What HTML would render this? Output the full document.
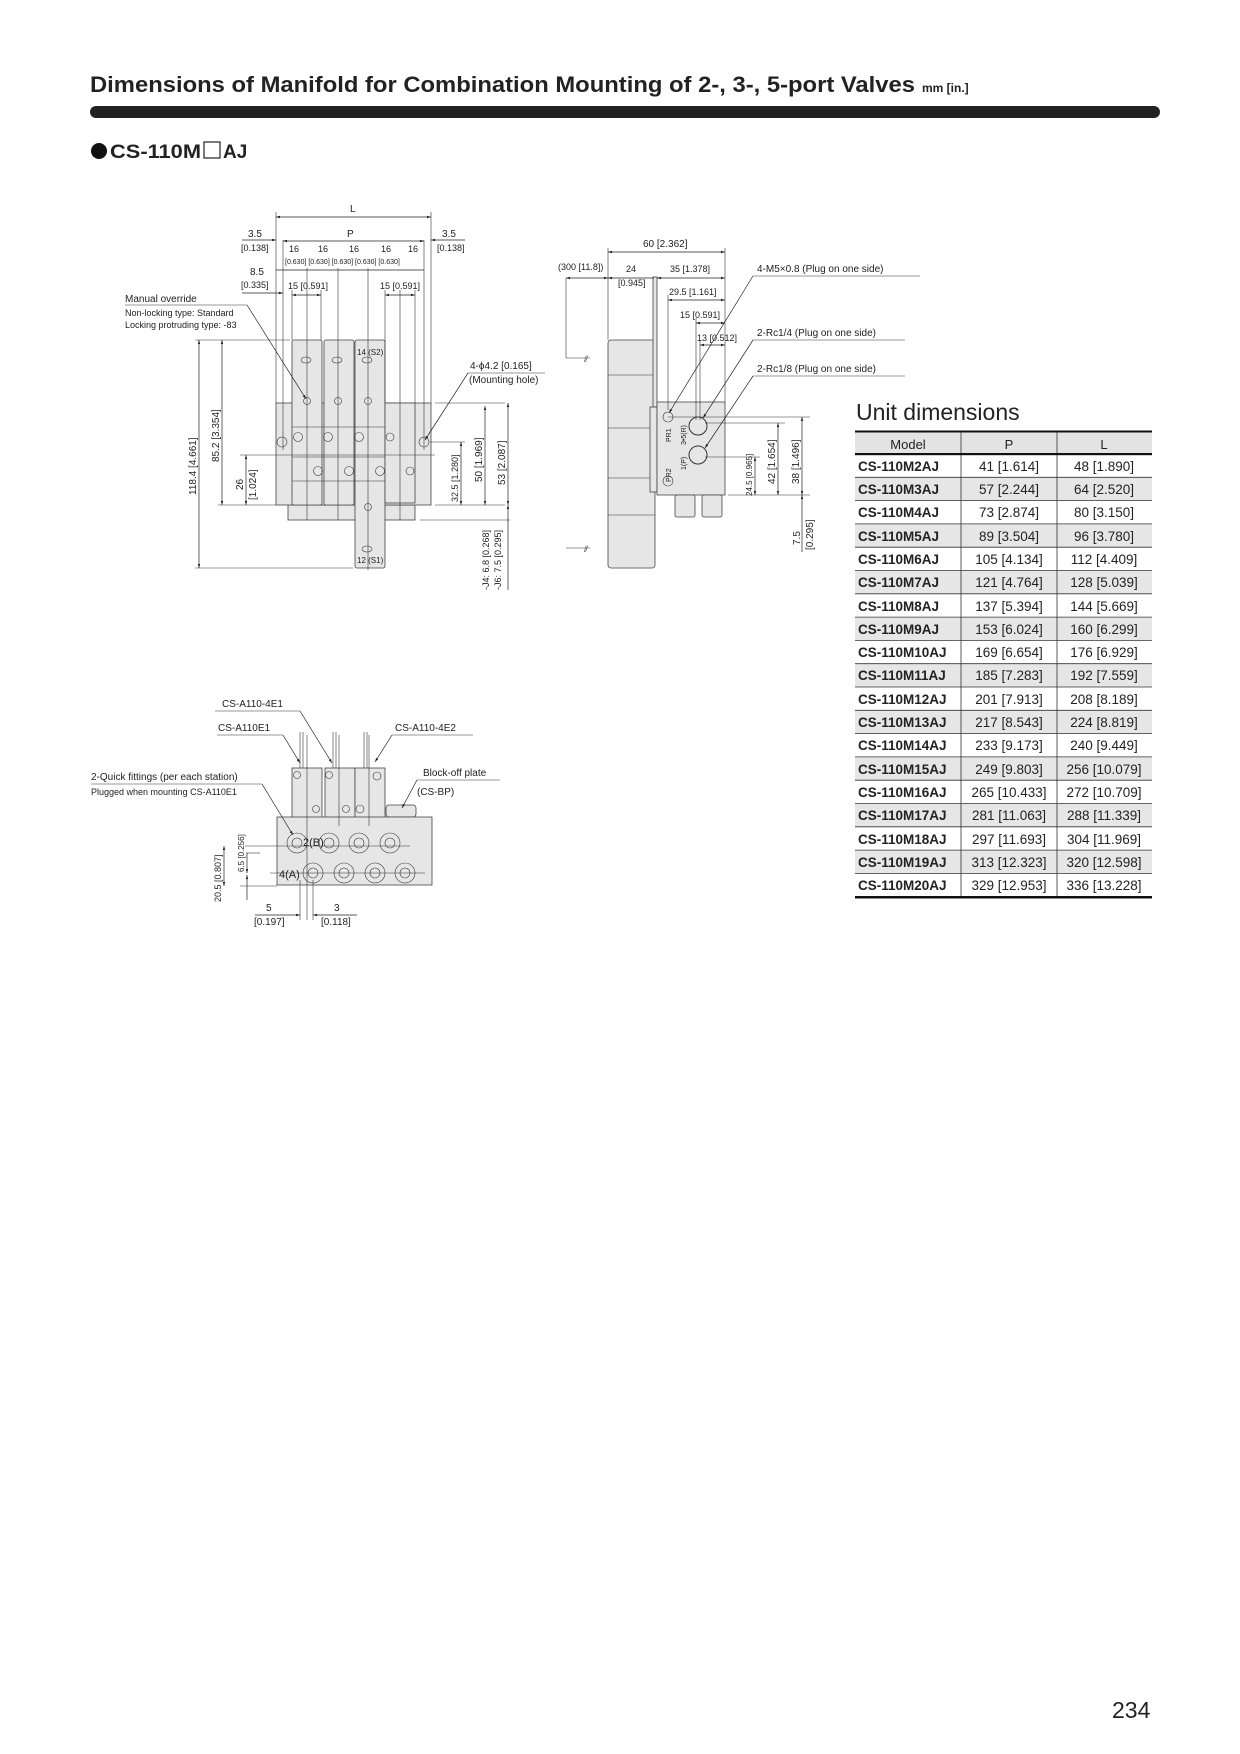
<!DOCTYPE html>
<html><head><meta charset="utf-8"><style>
html,body{margin:0;padding:0;background:#fff;}
svg{display:block;}
text{font-family:"Liberation Sans",sans-serif;fill:#222;}
.s{font-size:9px;}
.m{font-size:10px;}
.b{fill:#e6e6e6;stroke:#444;stroke-width:0.8;}
.l{stroke:#222;stroke-width:0.7;fill:none;}
.t{stroke:#333;stroke-width:0.6;fill:none;}
</style></head><body>
<svg width="1240" height="1754" viewBox="0 0 1240 1754" xmlns="http://www.w3.org/2000/svg">
<defs>
<marker id="a" viewBox="0 0 10 10" refX="10" refY="5" markerWidth="6" markerHeight="6" orient="auto-start-reverse"><path d="M0,2 L10,5 L0,8 z" fill="#222"/></marker>
</defs>
<!-- header -->
<text x="90" y="92" style="font-size:22px;font-weight:bold;" textLength="825" lengthAdjust="spacingAndGlyphs">Dimensions of Manifold for Combination Mounting of 2-, 3-, 5-port Valves</text>
<text x="922" y="92" style="font-size:12px;font-weight:bold;">mm [in.]</text>
<rect x="90" y="106" width="1070" height="12" rx="6" fill="#222"/>
<circle cx="99" cy="151" r="8" fill="#111"/>
<text x="110" y="158" style="font-size:19px;font-weight:bold;" textLength="91" lengthAdjust="spacingAndGlyphs">CS-110M</text>
<rect x="204" y="142" width="16" height="16" fill="none" stroke="#222" stroke-width="1.2"/>
<text x="223" y="158" style="font-size:19px;font-weight:bold;">AJ</text>

<!-- ===== Front view ===== -->
<g>
<rect class="b" x="288" y="505" width="127" height="15"/>
<rect class="b" x="276" y="403" width="155" height="102"/>
<rect class="b" x="292" y="340" width="30" height="165" rx="2"/>
<rect class="b" x="324" y="340" width="30" height="165" rx="2"/>
<rect class="b" x="355" y="340" width="30" height="228" rx="2"/>
<rect class="b" x="385" y="403" width="30" height="100"/>
<line class="t" x1="292" y1="427" x2="385" y2="427"/>
<line class="t" x1="292" y1="457" x2="385" y2="457"/>
<line class="t" x1="292" y1="481" x2="385" y2="481"/>
<g class="t">
<ellipse cx="306" cy="360" rx="5" ry="3"/><ellipse cx="337" cy="360" rx="5" ry="3"/><ellipse cx="367" cy="360" rx="5" ry="3"/><ellipse cx="367" cy="549" rx="5" ry="3"/>
<circle cx="307" cy="401" r="3.5"/><circle cx="338" cy="401" r="3.5"/><circle cx="368" cy="401" r="3.5"/><circle cx="368" cy="507" r="3.5"/>
<circle cx="282" cy="442" r="5"/><circle cx="424" cy="442" r="5"/>
<circle cx="298" cy="437" r="4.5"/><circle cx="328" cy="437" r="4.5"/><circle cx="359" cy="437" r="4.5"/><circle cx="390" cy="437" r="4"/>
<circle cx="318" cy="471" r="4.5"/><circle cx="349" cy="471" r="4.5"/><circle cx="380" cy="471" r="4.5"/><circle cx="410" cy="471" r="4"/>
</g>
<text x="357" y="355" class="s" style="font-size:8px">14 (S2)</text>
<text x="357" y="563" class="s" style="font-size:8px">12 (S1)</text>
<g class="t">
<line x1="307" y1="268" x2="307" y2="520"/><line x1="338" y1="268" x2="338" y2="520"/><line x1="368" y1="268" x2="368" y2="570"/>
<line x1="400" y1="290" x2="400" y2="520"/><line x1="424" y1="240" x2="424" y2="450"/>
<line x1="283" y1="240" x2="283" y2="450"/><line x1="292" y1="290" x2="292" y2="340"/><line x1="321" y1="290" x2="321" y2="340"/>
<line x1="385" y1="290" x2="385" y2="403"/><line x1="415" y1="290" x2="415" y2="403"/>
<line x1="276" y1="212" x2="276" y2="403"/><line x1="431" y1="212" x2="431" y2="403"/>
</g>
<line class="l" x1="276" y1="217" x2="431" y2="217" marker-start="url(#a)" marker-end="url(#a)"/>
<text x="350" y="212" class="m">L</text>
<line class="l" x1="283" y1="241" x2="424" y2="241" marker-start="url(#a)" marker-end="url(#a)"/>
<text x="347" y="237" class="m">P</text>
<line class="l" x1="242" y1="240" x2="276" y2="240" marker-end="url(#a)"/>
<line class="l" x1="465" y1="240" x2="431" y2="240" marker-end="url(#a)"/>
<text x="248" y="237" class="m">3.5</text><text x="241" y="251" class="s">[0.138]</text>
<text x="442" y="237" class="m">3.5</text><text x="437" y="251" class="s">[0.138]</text>
<line class="l" x1="276" y1="270" x2="424" y2="270"/>
<text x="289" y="252" class="s">16</text><text x="318" y="252" class="s">16</text><text x="349" y="252" class="s">16</text><text x="381" y="252" class="s">16</text><text x="408" y="252" class="s">16</text>
<text x="285" y="264" class="s" style="font-size:7px">[0.630] [0.630]  [0.630]  [0.630] [0.630]</text>
<text x="250" y="275" class="m">8.5</text><text x="241" y="288" class="s">[0.335]</text>
<line class="l" x1="242" y1="293" x2="283" y2="293" marker-end="url(#a)"/>
<line class="l" x1="292" y1="295" x2="321" y2="295" marker-start="url(#a)" marker-end="url(#a)"/>
<line class="l" x1="385" y1="295" x2="415" y2="295" marker-start="url(#a)" marker-end="url(#a)"/>
<text x="288" y="289" class="s">15 [0.591]</text><text x="380" y="289" class="s">15 [0.591]</text>
<text x="125" y="302" class="m">Manual override</text>
<line class="t" x1="125" y1="305" x2="247" y2="305"/>
<text x="125" y="316" class="s">Non-locking type: Standard</text>
<text x="125" y="328" class="s">Locking protruding type: -83</text>
<line class="l" x1="247" y1="305" x2="306" y2="399" marker-end="url(#a)"/>
<text x="470" y="369" class="m">4-ϕ4.2 [0.165]</text>
<text x="469" y="383" class="m">(Mounting hole)</text>
<line class="t" x1="468" y1="373" x2="545" y2="373"/>
<line class="l" x1="468" y1="373" x2="425" y2="440" marker-end="url(#a)"/>
<line class="t" x1="195" y1="340" x2="290" y2="340"/>
<line class="t" x1="195" y1="568" x2="353" y2="568"/>
<line class="t" x1="218" y1="505" x2="276" y2="505"/>
<line class="t" x1="240" y1="455" x2="435" y2="455"/>
<line class="l" x1="199" y1="340" x2="199" y2="568" marker-start="url(#a)" marker-end="url(#a)"/>
<line class="l" x1="222" y1="340" x2="222" y2="505" marker-start="url(#a)" marker-end="url(#a)"/>
<line class="l" x1="246" y1="455" x2="246" y2="505" marker-start="url(#a)" marker-end="url(#a)"/>
<text transform="translate(196,495) rotate(-90)" class="m">118.4 [4.661]</text>
<text transform="translate(219,462) rotate(-90)" class="m">85.2 [3.354]</text>
<text transform="translate(243,490) rotate(-90)" class="m">26</text>
<text transform="translate(256,500) rotate(-90)" class="m">[1.024]</text>
<line class="t" x1="435" y1="403" x2="505" y2="403"/>
<line class="t" x1="435" y1="505" x2="505" y2="505"/>
<line class="t" x1="430" y1="442" x2="465" y2="442"/>
<line class="t" x1="420" y1="520" x2="510" y2="520"/>
<line class="l" x1="461" y1="442" x2="461" y2="505" marker-start="url(#a)" marker-end="url(#a)"/>
<line class="l" x1="485" y1="406" x2="485" y2="505" marker-start="url(#a)" marker-end="url(#a)"/>
<line class="l" x1="508" y1="403" x2="508" y2="505" marker-start="url(#a)" marker-end="url(#a)"/>
<line class="l" x1="508" y1="505" x2="508" y2="590" marker-start="url(#a)"/>
<text transform="translate(458,502) rotate(-90)" class="s">32.5 [1.280]</text>
<text transform="translate(482,482) rotate(-90)" class="m">50 [1.969]</text>
<text transform="translate(505,485) rotate(-90)" class="m">53 [2.087]</text>
<text transform="translate(489,590) rotate(-90)" class="s">-J4: 6.8 [0.268]</text>
<text transform="translate(501,590) rotate(-90)" class="s">-J6: 7.5 [0.295]</text>
</g>

<!-- ===== Side view ===== -->
<g>
<rect class="b" x="608" y="340" width="47" height="228" rx="3"/>
<line class="t" x1="608" y1="375" x2="655" y2="375"/><line class="t" x1="608" y1="428" x2="655" y2="428"/>
<line class="t" x1="608" y1="478" x2="655" y2="478"/><line class="t" x1="608" y1="515" x2="655" y2="515"/>
<rect class="b" x="653" y="277" width="4" height="130"/>
<rect class="b" x="650" y="407" width="7" height="85"/>
<rect class="b" x="657" y="402" width="68" height="93"/>
<rect class="b" x="675" y="495" width="20" height="22" rx="2"/>
<rect class="b" x="702" y="495" width="20" height="22" rx="2"/>
<g class="t"><circle cx="668" cy="417" r="5"/><circle cx="668" cy="481" r="5"/><circle cx="698" cy="426" r="9" stroke-width="1"/><circle cx="698" cy="455" r="9" stroke-width="1"/></g>
<text transform="translate(671,442) rotate(-90)" class="s" style="font-size:7px">PR1</text>
<text transform="translate(671,482) rotate(-90)" class="s" style="font-size:7px">PR2</text>
<text transform="translate(686,445) rotate(-90)" class="s" style="font-size:7px">3•5(R)</text>
<text transform="translate(686,470) rotate(-90)" class="s" style="font-size:7px">1(P)</text>
<path class="t" d="M566,358 h24 M566,548 h24"/>
<text x="584" y="362" class="s">⫽</text><text x="584" y="552" class="s">⫽</text>
<line class="t" x1="566" y1="278" x2="566" y2="358"/>
<line class="t" x1="608" y1="248" x2="608" y2="340"/>
<line class="t" x1="725" y1="248" x2="725" y2="402"/>
<line class="t" x1="668" y1="295" x2="668" y2="410"/>
<line class="t" x1="696" y1="318" x2="696" y2="420"/>
<line class="t" x1="700" y1="340" x2="700" y2="420"/>
<line class="l" x1="608" y1="252" x2="725" y2="252" marker-start="url(#a)" marker-end="url(#a)"/>
<text x="643" y="247" class="m">60 [2.362]</text>
<line class="l" x1="566" y1="278" x2="608" y2="278" marker-start="url(#a)" marker-end="url(#a)"/>
<line class="l" x1="608" y1="278" x2="654" y2="278" marker-start="url(#a)"/>
<line class="l" x1="657" y1="278" x2="725" y2="278" marker-start="url(#a)" marker-end="url(#a)"/>
<text x="558" y="270" class="s">(300 [11.8])</text>
<text x="626" y="272" class="s">24</text><text x="618" y="286" class="s">[0.945]</text>
<text x="670" y="272" class="s">35 [1.378]</text>
<line class="l" x1="668" y1="300" x2="725" y2="300" marker-start="url(#a)" marker-end="url(#a)"/>
<text x="669" y="295" class="s">29.5 [1.161]</text>
<line class="l" x1="696" y1="323" x2="725" y2="323" marker-start="url(#a)" marker-end="url(#a)"/>
<text x="680" y="318" class="s">15 [0.591]</text>
<line class="l" x1="700" y1="345" x2="725" y2="345" marker-start="url(#a)" marker-end="url(#a)"/>
<text x="697" y="341" class="s">13 [0.512]</text>
<text x="757" y="272" class="m">4-M5×0.8 (Plug on one side)</text>
<line class="t" x1="753" y1="276" x2="920" y2="276"/>
<line class="l" x1="753" y1="276" x2="669" y2="413" marker-end="url(#a)"/>
<text x="757" y="336" class="m">2-Rc1/4 (Plug on one side)</text>
<line class="t" x1="753" y1="340" x2="905" y2="340"/>
<line class="l" x1="753" y1="340" x2="703" y2="418" marker-end="url(#a)"/>
<text x="757" y="372" class="m">2-Rc1/8 (Plug on one side)</text>
<line class="t" x1="753" y1="376" x2="905" y2="376"/>
<line class="l" x1="753" y1="376" x2="705" y2="448" marker-end="url(#a)"/>
<line class="t" x1="668" y1="417" x2="810" y2="417"/>
<line class="t" x1="705" y1="423" x2="785" y2="423"/>
<line class="t" x1="705" y1="457" x2="760" y2="457"/>
<line class="t" x1="728" y1="495" x2="810" y2="495"/>
<line class="l" x1="755" y1="457" x2="755" y2="495" marker-start="url(#a)" marker-end="url(#a)"/>
<line class="l" x1="778" y1="423" x2="778" y2="495" marker-start="url(#a)" marker-end="url(#a)"/>
<line class="l" x1="802" y1="417" x2="802" y2="495" marker-start="url(#a)" marker-end="url(#a)"/>
<line class="l" x1="802" y1="495" x2="802" y2="552" marker-start="url(#a)"/>
<text transform="translate(752,496) rotate(-90)" class="s" style="font-size:8px">24.5 [0.965]</text>
<text transform="translate(775,484) rotate(-90)" class="m">42 [1.654]</text>
<text transform="translate(799,484) rotate(-90)" class="m">38 [1.496]</text>
<text transform="translate(800,545) rotate(-90)" class="m">7.5</text>
<text transform="translate(813,550) rotate(-90)" class="m">[0.295]</text>
</g>

<!-- ===== Bottom view ===== -->
<g>
<rect class="b" x="292" y="768" width="30" height="50"/>
<rect class="b" x="325" y="768" width="30" height="50"/>
<rect class="b" x="355" y="768" width="30" height="50"/>
<rect class="b" x="386" y="805" width="30" height="12" rx="3"/>
<rect class="b" x="277" y="817" width="155" height="68"/>
<g class="t">
<circle cx="297" cy="775" r="3.5"/><circle cx="316" cy="809" r="3.5"/><circle cx="329" cy="775" r="3.5"/><circle cx="346" cy="809" r="3.5"/><circle cx="377" cy="776" r="4"/><circle cx="360" cy="809" r="4"/>
<circle cx="297" cy="843" r="10"/><circle cx="297" cy="843" r="5"/><circle cx="329" cy="843" r="10"/><circle cx="329" cy="843" r="5"/>
<circle cx="359" cy="843" r="10"/><circle cx="359" cy="843" r="5"/><circle cx="390" cy="843" r="10"/><circle cx="390" cy="843" r="5"/>
<circle cx="313" cy="873" r="10"/><circle cx="313" cy="873" r="5"/><circle cx="344" cy="873" r="10"/><circle cx="344" cy="873" r="5"/>
<circle cx="375" cy="873" r="10"/><circle cx="375" cy="873" r="5"/><circle cx="405" cy="873" r="10"/><circle cx="405" cy="873" r="5"/>
<line x1="245" y1="846" x2="410" y2="846"/><line x1="270" y1="873" x2="425" y2="873"/>
<line x1="307" y1="735" x2="307" y2="920"/><line x1="339" y1="735" x2="339" y2="826"/><line x1="369" y1="735" x2="369" y2="826"/>
<line x1="300" y1="880" x2="300" y2="920"/><line x1="313" y1="880" x2="313" y2="920"/>
<line x1="300" y1="732" x2="300" y2="768"/><line x1="303" y1="732" x2="303" y2="768"/><line x1="333" y1="732" x2="333" y2="768"/><line x1="336" y1="732" x2="336" y2="768"/><line x1="364" y1="732" x2="364" y2="768"/><line x1="367" y1="732" x2="367" y2="768"/>
<line x1="240" y1="886" x2="277" y2="886"/><line x1="246" y1="853" x2="260" y2="853"/>
</g>
<text x="303" y="846" class="m" style="font-size:11px">2(B)</text>
<text x="279" y="878" class="m" style="font-size:11px">4(A)</text>
<line class="l" x1="224" y1="846" x2="224" y2="886" marker-start="url(#a)" marker-end="url(#a)"/>
<line class="l" x1="247" y1="853" x2="247" y2="873" marker-end="url(#a)"/>
<line class="l" x1="247" y1="900" x2="247" y2="875" marker-end="url(#a)"/>
<text transform="translate(221,902) rotate(-90)" class="s">20.5 [0.807]</text>
<text transform="translate(244,872) rotate(-90)" class="s" style="font-size:8px">6.5 [0.256]</text>
<line class="l" x1="255" y1="915" x2="300" y2="915" marker-end="url(#a)"/>
<line class="l" x1="357" y1="915" x2="313" y2="915" marker-end="url(#a)"/>
<text x="266" y="911" class="m">5</text><text x="254" y="925" class="m">[0.197]</text>
<text x="334" y="911" class="m">3</text><text x="321" y="925" class="m">[0.118]</text>
<text x="222" y="707" class="m">CS-A110-4E1</text>
<line class="t" x1="215" y1="711" x2="300" y2="711"/>
<line class="l" x1="300" y1="711" x2="332" y2="763" marker-end="url(#a)"/>
<text x="218" y="731" class="m">CS-A110E1</text>
<line class="t" x1="217" y1="735" x2="283" y2="735"/>
<line class="l" x1="283" y1="735" x2="300" y2="763" marker-end="url(#a)"/>
<text x="395" y="731" class="m">CS-A110-4E2</text>
<line class="t" x1="392" y1="735" x2="473" y2="735"/>
<line class="l" x1="392" y1="735" x2="375" y2="762" marker-end="url(#a)"/>
<text x="423" y="776" class="m">Block-off plate</text>
<line class="t" x1="417" y1="780" x2="500" y2="780"/>
<text x="417" y="795" class="m">(CS-BP)</text>
<line class="l" x1="417" y1="780" x2="402" y2="808" marker-end="url(#a)"/>
<text x="91" y="780" class="m">2-Quick fittings (per each station)</text>
<line class="t" x1="91" y1="784" x2="262" y2="784"/>
<text x="91" y="795" class="s">Plugged when mounting CS-A110E1</text>
<line class="l" x1="262" y1="784" x2="293" y2="835" marker-end="url(#a)"/>
</g>

<!-- ===== Table ===== -->
<text x="856" y="420" style="font-size:23px;">Unit dimensions</text>
<rect x="855" y="432" width="297" height="22" fill="#e3e3e3"/>
<g style="font-size:13.5px;">
<text x="908" y="449" text-anchor="middle" style="font-size:13px">Model</text>
<text x="1009" y="449" text-anchor="middle" style="font-size:13px">P</text>
<text x="1104" y="449" text-anchor="middle" style="font-size:13px">L</text>
</g>
<g>
<rect x="855" y="477.3" width="297" height="23.3" fill="#e6e6e6"/>
<rect x="855" y="523.9" width="297" height="23.3" fill="#e6e6e6"/>
<rect x="855" y="570.5" width="297" height="23.3" fill="#e6e6e6"/>
<rect x="855" y="617.1" width="297" height="23.3" fill="#e6e6e6"/>
<rect x="855" y="663.7" width="297" height="23.3" fill="#e6e6e6"/>
<rect x="855" y="710.3" width="297" height="23.3" fill="#e6e6e6"/>
<rect x="855" y="756.9" width="297" height="23.3" fill="#e6e6e6"/>
<rect x="855" y="803.5" width="297" height="23.3" fill="#e6e6e6"/>
<rect x="855" y="850.1" width="297" height="23.3" fill="#e6e6e6"/>
</g>
<g stroke="#333" stroke-width="0.8">
<line x1="855" y1="477.3" x2="1152" y2="477.3"/><line x1="855" y1="500.6" x2="1152" y2="500.6"/><line x1="855" y1="523.9" x2="1152" y2="523.9"/><line x1="855" y1="547.2" x2="1152" y2="547.2"/><line x1="855" y1="570.5" x2="1152" y2="570.5"/><line x1="855" y1="593.8" x2="1152" y2="593.8"/><line x1="855" y1="617.1" x2="1152" y2="617.1"/><line x1="855" y1="640.4" x2="1152" y2="640.4"/><line x1="855" y1="663.7" x2="1152" y2="663.7"/><line x1="855" y1="687" x2="1152" y2="687"/><line x1="855" y1="710.3" x2="1152" y2="710.3"/><line x1="855" y1="733.6" x2="1152" y2="733.6"/><line x1="855" y1="756.9" x2="1152" y2="756.9"/><line x1="855" y1="780.2" x2="1152" y2="780.2"/><line x1="855" y1="803.5" x2="1152" y2="803.5"/><line x1="855" y1="826.8" x2="1152" y2="826.8"/><line x1="855" y1="850.1" x2="1152" y2="850.1"/><line x1="855" y1="873.4" x2="1152" y2="873.4"/>
<line x1="961" y1="432" x2="961" y2="897"/><line x1="1057" y1="432" x2="1057" y2="897"/>
</g>
<rect x="855" y="430.5" width="297" height="2" fill="#111"/>
<rect x="855" y="453" width="297" height="2.2" fill="#111"/>
<rect x="855" y="896" width="297" height="2.5" fill="#111"/>
<g style="font-size:13.5px;">
<g style="font-weight:bold">
<text x="858" y="471">CS-110M2AJ</text><text x="858" y="494">CS-110M3AJ</text><text x="858" y="517">CS-110M4AJ</text><text x="858" y="541">CS-110M5AJ</text><text x="858" y="564">CS-110M6AJ</text><text x="858" y="587">CS-110M7AJ</text><text x="858" y="611">CS-110M8AJ</text><text x="858" y="634">CS-110M9AJ</text><text x="858" y="657">CS-110M10AJ</text><text x="858" y="680">CS-110M11AJ</text><text x="858" y="704">CS-110M12AJ</text><text x="858" y="727">CS-110M13AJ</text><text x="858" y="750">CS-110M14AJ</text><text x="858" y="774">CS-110M15AJ</text><text x="858" y="797">CS-110M16AJ</text><text x="858" y="820">CS-110M17AJ</text><text x="858" y="844">CS-110M18AJ</text><text x="858" y="867">CS-110M19AJ</text><text x="858" y="890">CS-110M20AJ</text>
</g>
<g text-anchor="middle">
<text x="1009" y="471">41 [1.614]</text><text x="1009" y="494">57 [2.244]</text><text x="1009" y="517">73 [2.874]</text><text x="1009" y="541">89 [3.504]</text><text x="1009" y="564">105 [4.134]</text><text x="1009" y="587">121 [4.764]</text><text x="1009" y="611">137 [5.394]</text><text x="1009" y="634">153 [6.024]</text><text x="1009" y="657">169 [6.654]</text><text x="1009" y="680">185 [7.283]</text><text x="1009" y="704">201 [7.913]</text><text x="1009" y="727">217 [8.543]</text><text x="1009" y="750">233 [9.173]</text><text x="1009" y="774">249 [9.803]</text><text x="1009" y="797">265 [10.433]</text><text x="1009" y="820">281 [11.063]</text><text x="1009" y="844">297 [11.693]</text><text x="1009" y="867">313 [12.323]</text><text x="1009" y="890">329 [12.953]</text>
<text x="1104" y="471">48 [1.890]</text><text x="1104" y="494">64 [2.520]</text><text x="1104" y="517">80 [3.150]</text><text x="1104" y="541">96 [3.780]</text><text x="1104" y="564">112 [4.409]</text><text x="1104" y="587">128 [5.039]</text><text x="1104" y="611">144 [5.669]</text><text x="1104" y="634">160 [6.299]</text><text x="1104" y="657">176 [6.929]</text><text x="1104" y="680">192 [7.559]</text><text x="1104" y="704">208 [8.189]</text><text x="1104" y="727">224 [8.819]</text><text x="1104" y="750">240 [9.449]</text><text x="1104" y="774">256 [10.079]</text><text x="1104" y="797">272 [10.709]</text><text x="1104" y="820">288 [11.339]</text><text x="1104" y="844">304 [11.969]</text><text x="1104" y="867">320 [12.598]</text><text x="1104" y="890">336 [13.228]</text>
</g>
</g>

<text x="1112" y="1718" style="font-size:23px;">234</text>
</svg>
</body></html>
